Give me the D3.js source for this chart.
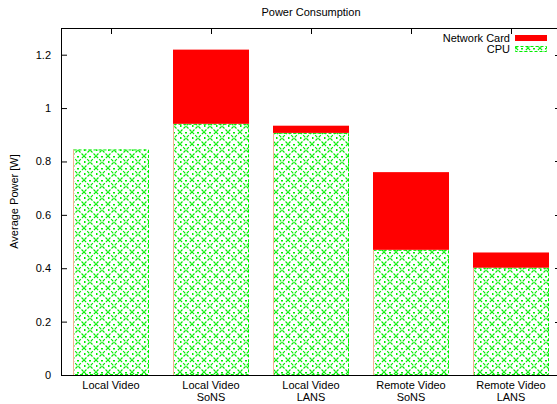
<!DOCTYPE html>
<html>
<head>
<meta charset="utf-8">
<script src="https://cdn.jsdelivr.net/npm/d3@7"></script>
<style>
  body { margin: 0; background: #fff; }
  svg { display: block; font-family: "Liberation Sans", Arial, sans-serif; }
</style>
</head>
<body>
<div id="chart"></div>
<script>
// chart data
const categories = [
  ["Local Video"],
  ["Local Video", "SoNS"],
  ["Local Video", "LANS"],
  ["Remote Video", "SoNS"],
  ["Remote Video", "LANS"]
];
const cpu = [0.845, 0.941, 0.907, 0.469, 0.402];
const networkCard = [0, 0.278, 0.027, 0.291, 0.057];
const yTicks = [0, 0.2, 0.4, 0.6, 0.8, 1, 1.2];
const seriesNames = ["Network Card", "CPU"];

const width = 557, height = 404;
const margin = { top: 28, left: 61, bottom: 29 };
const plotRight = 561; // gnuplot border runs just off the canvas

const svg = d3.select('#chart').append('svg')
    .attr('width', width)
    .attr('height', height);

const defs = svg.append('defs');
const pat = defs.append('pattern')
    .attr('id', 'hatch')
    .attr('patternUnits', 'userSpaceOnUse')
    .attr('width', 12)
    .attr('height', 12);
pat.append('rect').attr('width', 12).attr('height', 12).attr('fill', '#fff');
pat.append('path')
    .attr('d', 'M0,0 L12,12 M12,0 L0,12')
    .attr('stroke', '#00ee00')
    .attr('stroke-width', 1.2)
    .attr('stroke-dasharray', '3,1.5');
pat.append('rect').attr('x', 5).attr('y', 0).attr('width', 2).attr('height', 1.5).attr('fill', '#00ee00');
pat.append('rect').attr('x', 0).attr('y', 5).attr('width', 1.5).attr('height', 2).attr('fill', '#00ee00');

const x = d3.scaleBand()
    .domain(d3.range(categories.length))
    .range([margin.left, plotRight])
    .paddingInner(0.24)
    .paddingOuter(0.12);

const y = d3.scaleLinear()
    .domain([0, 1.3])
    .range([height - margin.bottom, margin.top]);

// title
svg.append('text')
    .attr('x', 311)
    .attr('y', 16)
    .attr('text-anchor', 'middle')
    .attr('font-size', 11)
    .text('Power Consumption');

// y label
svg.append('text')
    .attr('transform', `translate(18,${y(0.65)}) rotate(-90)`)
    .attr('text-anchor', 'middle')
    .attr('font-size', 11)
    .text('Average Power [W]');

// bars
const bars = svg.append('g');
cpu.forEach((v, i) => {
    bars.append('rect')
        .attr('x', x(i))
        .attr('y', y(v))
        .attr('width', x.bandwidth())
        .attr('height', y(0) - y(v))
        .attr('fill', 'url(#hatch)');
    bars.append('rect')
        .attr('x', x(i) + 0.5)
        .attr('y', y(v) + 0.5)
        .attr('width', x.bandwidth() - 1)
        .attr('height', y(0) - y(v) - 1)
        .attr('fill', 'none')
        .attr('stroke', '#00ee00')
        .attr('stroke-dasharray', '3,2');
    bars.append('line')
        .attr('x1', x(i) + 0.5).attr('x2', x(i) + 0.5)
        .attr('y1', y(v)).attr('y2', y(0))
        .attr('stroke', '#f4b090');
    if (networkCard[i] > 0) {
        const top = cpu[i] + networkCard[i];
        bars.append('rect')
            .attr('x', x(i))
            .attr('y', y(top))
            .attr('width', x.bandwidth())
            .attr('height', y(cpu[i]) - y(top))
            .attr('fill', '#ff0000');
    }
});

// axes / border
const yAxis = d3.axisLeft(y).tickValues(yTicks).tickSize(-6).tickPadding(10)
    .tickFormat(d3.format('~g'));
const gy = svg.append('g')
    .attr('transform', `translate(${margin.left},0)`)
    .call(yAxis);
gy.select('.domain').remove();
gy.selectAll('.tick line').attr('stroke', '#000');
gy.selectAll('.tick text').attr('font-size', 11).attr('fill', '#000');

// mirror ticks on the right
svg.append('g').selectAll('line')
    .data(yTicks)
    .join('line')
    .attr('x1', plotRight).attr('x2', plotRight - 6)
    .attr('y1', d => Math.round(y(d)) + 0.5).attr('y2', d => Math.round(y(d)) + 0.5)
    .attr('stroke', '#000');

// top mirror ticks at category centres
svg.append('g').selectAll('line')
    .data(d3.range(categories.length))
    .join('line')
    .attr('x1', d => Math.round(x(d) + x.bandwidth() / 2) + 0.5)
    .attr('x2', d => Math.round(x(d) + x.bandwidth() / 2) + 0.5)
    .attr('y1', margin.top).attr('y2', margin.top + 6)
    .attr('stroke', '#000');

svg.append('rect')
    .attr('x', margin.left + 0.5)
    .attr('y', margin.top + 0.5)
    .attr('width', plotRight - margin.left)
    .attr('height', y(0) - margin.top)
    .attr('fill', 'none')
    .attr('stroke', '#000');

// category labels
const xl = svg.append('g');
categories.forEach((lines, i) => {
    const t = xl.append('text')
        .attr('x', x(i) + x.bandwidth() / 2)
        .attr('y', y(0) + 14)
        .attr('text-anchor', 'middle')
        .attr('font-size', 11);
    lines.forEach((s, j) => {
        t.append('tspan')
            .attr('x', x(i) + x.bandwidth() / 2)
            .attr('dy', j === 0 ? 0 : 12)
            .text(s);
    });
});

// legend
const lg = svg.append('g');
seriesNames.forEach((name, i) => {
    const ly = 38 + i * 11;
    lg.append('text')
        .attr('x', 510)
        .attr('y', ly + 4)
        .attr('text-anchor', 'end')
        .attr('font-size', 11)
        .text(name);
    if (i === 0) {
        lg.append('rect')
            .attr('x', 515).attr('y', ly - 3)
            .attr('width', 32).attr('height', 6)
            .attr('fill', '#ff0000');
    } else {
        lg.append('rect')
            .attr('x', 515.5).attr('y', ly - 2.5)
            .attr('width', 31).attr('height', 5)
            .attr('fill', 'url(#hatch)')
            .attr('stroke', '#00ee00')
            .attr('stroke-dasharray', '3,2');
    }
});
</script>
</body>
</html>
